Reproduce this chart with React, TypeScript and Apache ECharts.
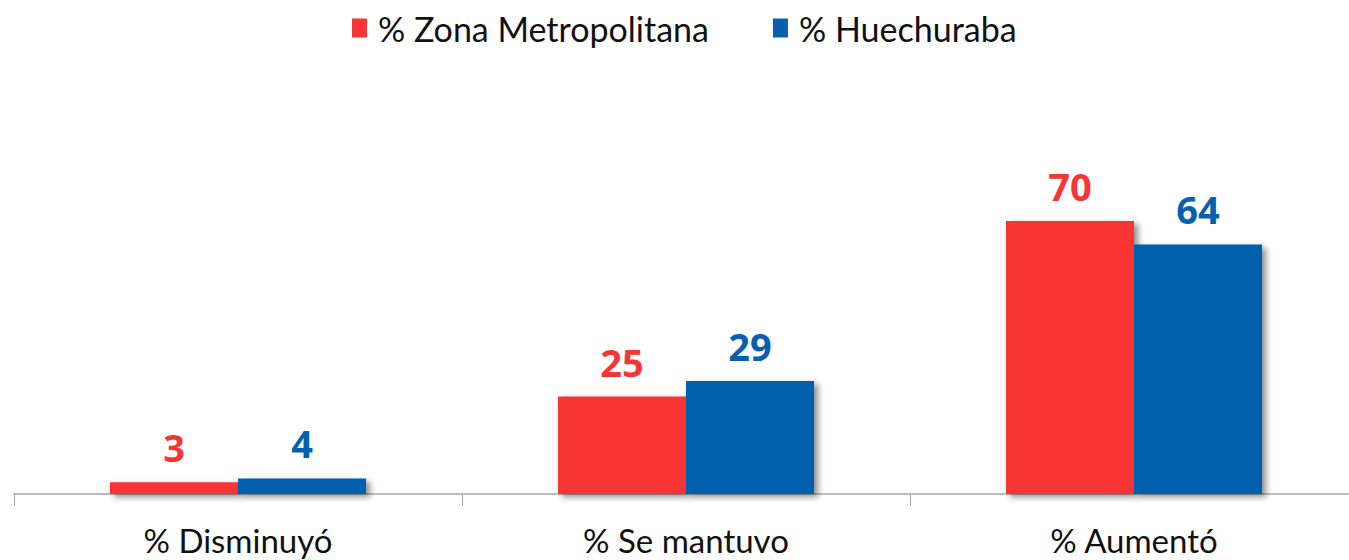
import React, { useEffect, useRef } from "react";
import * as echarts from "echarts";

const categories = ["% Disminuyó", "% Se mantuvo", "% Aumentó"];
const seriesNames = ["% Zona Metropolitana", "% Huechuraba"];
const zonaValues = [3, 25, 70];
const huechurabaValues = [4, 29, 64];
const colors = ["#F73535", "#0660AE"];

export default function App() {
  const ref = useRef<HTMLDivElement>(null);
  useEffect(() => {
    if (!ref.current) return;
    const chart = echarts.init(ref.current, undefined, { renderer: "svg" });
    const font = "Lato, 'Open Sans', sans-serif";
    const mk = (name: string, data: number[], color: string) => ({
      name,
      type: "bar",
      data,
      barWidth: 128,
      barGap: "0%",
      itemStyle: {
        color,
        shadowColor: "rgba(0,0,0,0.45)",
        shadowBlur: 6,
        shadowOffsetX: 4,
        shadowOffsetY: 3,
      },
      label: {
        show: true,
        position: "top",
        distance: 16,
        color,
        fontFamily: "'Open Sans', sans-serif",
        fontWeight: "bold",
        fontSize: 38,
      },
    });
    chart.setOption({
      animation: false,
      legend: {
        top: 6,
        left: 347,
        itemWidth: 15,
        itemHeight: 19,
        itemGap: 64,
        icon: "rect",
        textStyle: { fontFamily: font, fontSize: 34, color: "#111", padding: [0, 0, 0, 6] },
        data: seriesNames,
      },
      grid: { left: 14, right: 2, top: 104, height: 390 },
      xAxis: {
        type: "category",
        data: categories,
        axisLine: { lineStyle: { color: "#a6a6a6", width: 1.5 } },
        axisTick: { show: true, length: 12, lineStyle: { color: "#a6a6a6" } },
        axisLabel: { fontFamily: font, fontSize: 33, color: "#111", margin: 29, lineHeight: 34 },
      },
      yAxis: {
        type: "value",
        min: 0,
        max: 100,
        show: false,
        splitLine: { show: false },
      },
      series: [
        mk(seriesNames[0], zonaValues, colors[0]),
        mk(seriesNames[1], huechurabaValues, colors[1]),
      ],
    });
    return () => chart.dispose();
  }, []);
  return (
    <div
      ref={ref}
      style={{ position: "fixed", left: 0, top: 0, width: 1360, height: 560, background: "#fff" }}
    />
  );
}
